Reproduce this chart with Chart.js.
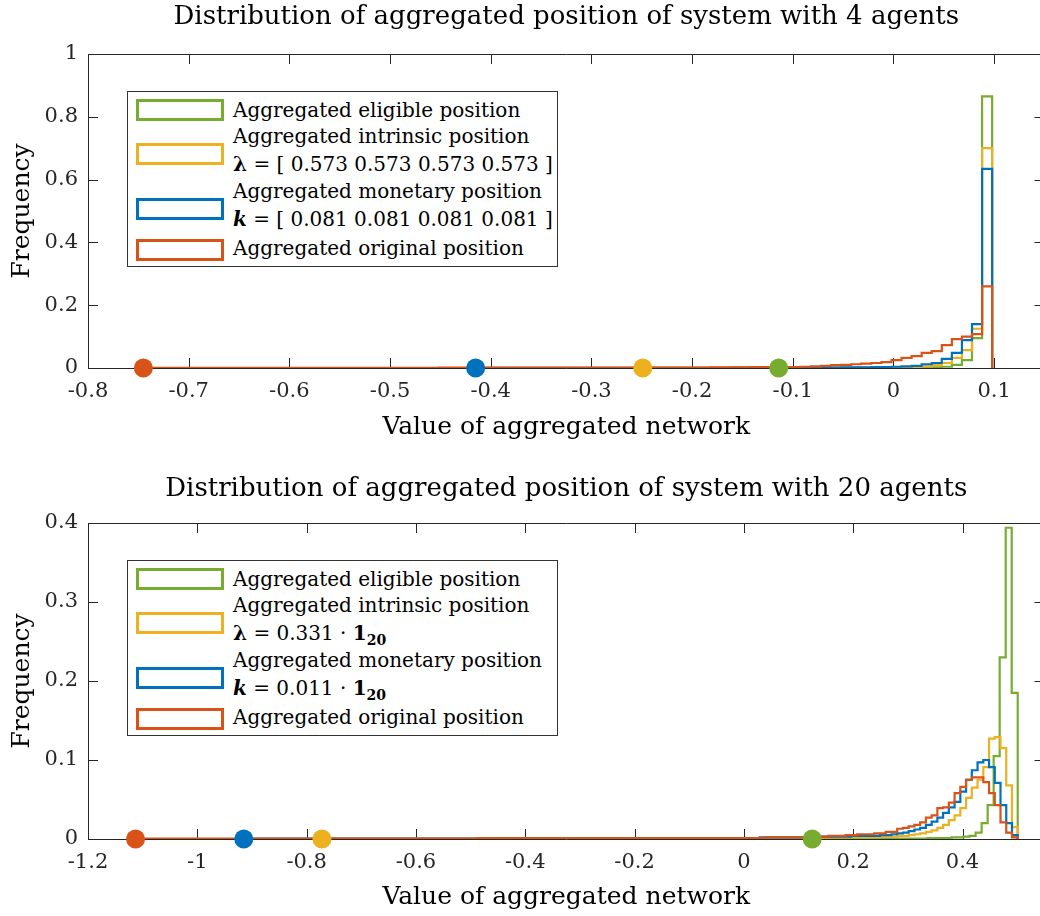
<!DOCTYPE html>
<html>
<head>
<meta charset="utf-8">
<script src="https://cdn.jsdelivr.net/npm/chart.js@4.4.1/dist/chart.umd.min.js"></script>
<style>
  body { margin: 0; background: #fff; width: 1040px; height: 916px; overflow: hidden; position: relative; font-family: "DejaVu Serif", serif; }
  canvas { position: absolute; left: 0; }
  .legend { position: absolute; left: 127px; width: 431px; height: 176px; border: 1px solid #333; background: #fff; box-sizing: border-box; }
  .legend .sw { position: absolute; left: 8px; width: 88px; height: 22px; border: 3px solid; box-sizing: border-box; background: #fff; }
  .legend .tx { position: absolute; left: 105px; font-size: 20px; line-height: 26px; color: #000; white-space: nowrap; }
  .legend sub { font-size: 14px; line-height: 0; }
</style>
</head>
<body>
<canvas id="topChart" width="1054" height="460" style="top:0"></canvas>
<canvas id="bottomChart" width="1054" height="456" style="top:460px"></canvas>
<div id="topLegend" class="legend" style="top:91px"></div>
<div id="bottomLegend" class="legend" style="top:560px"></div>
<script>
// series order as in the legend: eligible, intrinsic, monetary, original
const seriesNames = ['Aggregated eligible position', 'Aggregated intrinsic position', 'Aggregated monetary position', 'Aggregated original position'];
const seriesColors = ['#77AC30', '#EDB120', '#0072BD', '#D95319'];

const topTitle = 'Distribution of aggregated position of system with 4 agents';
const bottomTitle = 'Distribution of aggregated position of system with 20 agents';
const xTitle = 'Value of aggregated network';
const yTitle = 'Frequency';

const topXTicks = [-0.8, -0.7, -0.6, -0.5, -0.4, -0.3, -0.2, -0.1, 0, 0.1];
const topXLabels = ['-0.8', '-0.7', '-0.6', '-0.5', '-0.4', '-0.3', '-0.2', '-0.1', '0', '0.1'];
const topYTicks = [0, 0.2, 0.4, 0.6, 0.8, 1];
const topYLabels = ['0', '0.2', '0.4', '0.6', '0.8', '1'];
const bottomXTicks = [-1.2, -1, -0.8, -0.6, -0.4, -0.2, 0, 0.2, 0.4];
const bottomXLabels = ['-1.2', '-1', '-0.8', '-0.6', '-0.4', '-0.2', '0', '0.2', '0.4'];
const bottomYTicks = [0, 0.1, 0.2, 0.3, 0.4];
const bottomYLabels = ['0', '0.1', '0.2', '0.3', '0.4'];

// 4 agents: histogram bins (left edge of first bin, bin width, frequencies)
const topBinWidth = 0.01;
const topStarts = [-0.112, -0.252, -0.412, -0.752];
const topGreen = [
  0.0005, 0.0005, 0.0005, 0.0005, 0.0005, 0.0005, 0.0005, 0.0005, 0.0005, 0.0005,
  0.0005, 0.0005, 0.0005, 0.0005, 0.001, 0.002, 0.004, 0.010, 0.025, 0.095, 0.865];
const topYellow = [
  0.0005, 0.0005, 0.0005, 0.0005, 0.0005, 0.0005, 0.0005, 0.0005, 0.0005, 0.0005,
  0.0005, 0.0005, 0.0005, 0.0005, 0.0005, 0.001, 0.001, 0.001, 0.001, 0.001,
  0.001, 0.001, 0.001, 0.001, 0.001, 0.002, 0.002, 0.003, 0.005, 0.009,
  0.016, 0.032, 0.057, 0.125, 0.70];
const topBlue = [
  0.0005, 0.0005, 0.0005, 0.0005, 0.0005, 0.0005, 0.0005, 0.0005, 0.0005, 0.0005,
  0.0005, 0.0005, 0.0005, 0.0005, 0.0005, 0.0005, 0.0005, 0.0005, 0.0005, 0.0005,
  0.0005, 0.0005, 0.0005, 0.0005, 0.0005, 0.001, 0.001, 0.001, 0.001, 0.001,
  0.001, 0.001, 0.001, 0.001, 0.001, 0.001, 0.002, 0.002, 0.002, 0.003,
  0.003, 0.004, 0.005, 0.007, 0.012, 0.016, 0.029, 0.048, 0.089, 0.14, 0.634];
const topOrange = [
  0.0005, 0.0005, 0.0005, 0.0005, 0.0005, 0.0005, 0.0005, 0.0005, 0.0005, 0.0005,
  0.0005, 0.0005, 0.0005, 0.0005, 0.0005, 0.0005, 0.0005, 0.0005, 0.0005, 0.0005,
  0.0005, 0.0005, 0.0005, 0.0005, 0.0005, 0.0005, 0.0005, 0.0005, 0.0005, 0.0005,
  0.001, 0.001, 0.001, 0.001, 0.001, 0.001, 0.001, 0.001, 0.001, 0.001,
  0.001, 0.001, 0.001, 0.001, 0.001, 0.001, 0.001, 0.001, 0.001, 0.001,
  0.001, 0.001, 0.001, 0.001, 0.001, 0.001, 0.001, 0.002, 0.002, 0.002,
  0.002, 0.003, 0.003, 0.003, 0.003, 0.003, 0.004, 0.005, 0.007, 0.009,
  0.010, 0.012, 0.014, 0.016, 0.019, 0.025, 0.032, 0.038, 0.048, 0.054,
  0.073, 0.092, 0.100, 0.108, 0.26];
const topMarkers = [-0.114, -0.249, -0.415, -0.745];

// 20 agents
const bottomBinWidths = [0.011, 0.0105, 0.0105, 0.0105];
const bottomStarts = [0.127, -0.7695, -0.9165, -1.116];
const bottomGreen = [
  0.0005, 0.0005, 0.0005, 0.0005, 0.0005, 0.0005, 0.0005, 0.0005, 0.0005, 0.0005,
  0.0005, 0.0005, 0.0005, 0.0005, 0.0005, 0.0005, 0.0005, 0.0005, 0.0005, 0.001,
  0.001, 0.001, 0.001, 0.002, 0.002, 0.003, 0.004, 0.008, 0.020, 0.043,
  0.105, 0.230, 0.394, 0.185];
const bottomYellow = [
  0.0005, 0.0005, 0.0005, 0.0005, 0.0005, 0.0005, 0.0005, 0.0005, 0.0005, 0.0005,
  0.0005, 0.0005, 0.0005, 0.0005, 0.0005, 0.0005, 0.0005, 0.0005, 0.0005, 0.0005,
  0.0005, 0.0005, 0.0005, 0.0005, 0.0005, 0.0005, 0.0005, 0.0005, 0.0005, 0.0005,
  0.0005, 0.0005, 0.0005, 0.0005, 0.0005, 0.0005, 0.0005, 0.0005, 0.0005, 0.0005,
  0.0005, 0.0005, 0.0005, 0.0005, 0.0005, 0.0005, 0.0005, 0.0005, 0.0005, 0.0005,
  0.0005, 0.001, 0.001, 0.001, 0.001, 0.001, 0.001, 0.001, 0.001, 0.001,
  0.001, 0.001, 0.001, 0.001, 0.001, 0.001, 0.001, 0.001, 0.001, 0.001,
  0.001, 0.001, 0.001, 0.001, 0.001, 0.001, 0.001, 0.001, 0.001, 0.001,
  0.001, 0.001, 0.001, 0.001, 0.001, 0.001, 0.001, 0.002, 0.002, 0.002,
  0.002, 0.002, 0.002, 0.002, 0.002, 0.002, 0.002, 0.003, 0.003, 0.003,
  0.004, 0.004, 0.005, 0.006, 0.007, 0.009, 0.011, 0.014, 0.018, 0.024,
  0.030, 0.039, 0.052, 0.065, 0.075, 0.091, 0.127, 0.129, 0.115, 0.068,
  0.015];
const bottomBlue = [
  0.0005, 0.0005, 0.0005, 0.0005, 0.0005, 0.0005, 0.0005, 0.0005, 0.0005, 0.0005,
  0.0005, 0.0005, 0.0005, 0.0005, 0.0005, 0.0005, 0.0005, 0.0005, 0.0005, 0.0005,
  0.0005, 0.0005, 0.0005, 0.0005, 0.0005, 0.0005, 0.0005, 0.0005, 0.0005, 0.0005,
  0.0005, 0.0005, 0.0005, 0.0005, 0.0005, 0.0005, 0.0005, 0.0005, 0.0005, 0.0005,
  0.0005, 0.0005, 0.0005, 0.0005, 0.0005, 0.0005, 0.0005, 0.0005, 0.0005, 0.0005,
  0.0005, 0.0005, 0.0005, 0.0005, 0.0005, 0.001, 0.001, 0.001, 0.001, 0.001,
  0.001, 0.001, 0.001, 0.001, 0.001, 0.001, 0.001, 0.001, 0.001, 0.001,
  0.001, 0.001, 0.001, 0.001, 0.001, 0.001, 0.001, 0.001, 0.001, 0.001,
  0.001, 0.001, 0.001, 0.001, 0.001, 0.001, 0.001, 0.001, 0.001, 0.001,
  0.002, 0.002, 0.002, 0.002, 0.002, 0.002, 0.002, 0.002, 0.002, 0.003,
  0.003, 0.003, 0.003, 0.003, 0.003, 0.003, 0.004, 0.004, 0.004, 0.004,
  0.004, 0.005, 0.005, 0.006, 0.007, 0.008, 0.010, 0.012, 0.014, 0.018,
  0.022, 0.027, 0.033, 0.040, 0.047, 0.060, 0.075, 0.087, 0.097, 0.100,
  0.091, 0.071, 0.043, 0.020, 0.005];
const bottomOrange = [
  0.0005, 0.0005, 0.0005, 0.0005, 0.0005, 0.0005, 0.0005, 0.0005, 0.0005, 0.0005,
  0.0005, 0.0005, 0.0005, 0.0005, 0.0005, 0.0005, 0.0005, 0.0005, 0.0005, 0.0005,
  0.0005, 0.0005, 0.0005, 0.0005, 0.0005, 0.0005, 0.0005, 0.0005, 0.0005, 0.0005,
  0.0005, 0.0005, 0.0005, 0.0005, 0.0005, 0.0005, 0.0005, 0.0005, 0.0005, 0.0005,
  0.0005, 0.0005, 0.0005, 0.0005, 0.0005, 0.0005, 0.0005, 0.0005, 0.0005, 0.0005,
  0.0005, 0.0005, 0.0005, 0.0005, 0.0005, 0.0005, 0.0005, 0.0005, 0.0005, 0.0005,
  0.001, 0.001, 0.001, 0.001, 0.001, 0.001, 0.001, 0.001, 0.001, 0.001,
  0.001, 0.001, 0.001, 0.001, 0.001, 0.001, 0.001, 0.001, 0.001, 0.001,
  0.001, 0.001, 0.001, 0.001, 0.001, 0.001, 0.001, 0.001, 0.001, 0.001,
  0.001, 0.001, 0.001, 0.001, 0.001, 0.001, 0.001, 0.001, 0.001, 0.001,
  0.001, 0.001, 0.001, 0.001, 0.001, 0.001, 0.001, 0.001, 0.001, 0.001,
  0.002, 0.002, 0.002, 0.002, 0.002, 0.002, 0.002, 0.003, 0.003, 0.003,
  0.003, 0.004, 0.004, 0.004, 0.005, 0.005, 0.006, 0.006, 0.006, 0.007,
  0.007, 0.009, 0.009, 0.013, 0.014, 0.016, 0.018, 0.021, 0.027, 0.030,
  0.039, 0.040, 0.046, 0.058, 0.066, 0.075, 0.078, 0.078, 0.072, 0.058,
  0.043, 0.021, 0.008, 0.002];
const bottomMarkers = [0.125, -0.772, -0.915, -1.113];

// legend texts (second lines hold the parameters)
const topLegendLines = [
  seriesNames[0], seriesNames[1], '<b>λ</b> = [ 0.573 0.573 0.573 0.573 ]',
  seriesNames[2], '<b><i>k</i></b> = [ 0.081 0.081 0.081 0.081 ]', seriesNames[3]];
const bottomLegendLines = [
  seriesNames[0], seriesNames[1], '<b>λ</b> = 0.331 · <b>1<sub>20</sub></b>',
  seriesNames[2], '<b><i>k</i></b> = 0.011 · <b>1<sub>20</sub></b>', seriesNames[3]];

Chart.defaults.font.family = '"DejaVu Serif", serif';
const axisColor = '#262626';

// turn bin frequencies into outline points for a stepped line
function stairs(start, width, values) {
  const pts = [{x: start, y: 0}];
  values.forEach((v, i) => pts.push({x: start + i * width, y: v}));
  pts.push({x: start + values.length * width, y: 0});
  return pts;
}

// MATLAB style box with inward ticks on all four sides
const boxPlugin = {
  id: 'boxPlugin',
  beforeDatasetsDraw(chart) {
    const {ctx, chartArea: a, scales: {x, y}} = chart;
    ctx.save();
    ctx.strokeStyle = axisColor;
    ctx.lineWidth = 1;
    ctx.beginPath();
    ctx.rect(a.left + 0.5, a.top + 0.5, a.right - a.left, a.bottom - a.top);
    x.ticks.forEach(t => {
      const px = Math.round(x.getPixelForValue(t.value)) + 0.5;
      ctx.moveTo(px, a.bottom); ctx.lineTo(px, a.bottom - 10);
      ctx.moveTo(px, a.top); ctx.lineTo(px, a.top + 10);
    });
    y.ticks.forEach(t => {
      const py = Math.round(y.getPixelForValue(t.value)) + 0.5;
      ctx.moveTo(a.left, py); ctx.lineTo(a.left + 10, py);
      ctx.moveTo(a.right, py); ctx.lineTo(a.right - 10, py);
    });
    ctx.stroke();
    ctx.restore();
  }
};

function makeChart(id, o) {
  const datasets = o.series.map((s, i) => ({
    label: seriesNames[i],
    data: stairs(o.starts[i], o.widths[i], s),
    borderColor: seriesColors[i],
    borderWidth: 2.2,
    stepped: 'before',
    pointRadius: 0,
    fill: false,
    order: 4 - i
  }));
  datasets.push({
    label: 'minimum',
    data: o.markers.map(v => ({x: v, y: 0})),
    showLine: false,
    pointRadius: 9.5,
    pointBorderWidth: 0,
    pointBackgroundColor: seriesColors,
    clip: false,
    order: 0
  });
  return new Chart(document.getElementById(id), {
    type: 'line',
    data: {datasets: datasets},
    options: {
      responsive: false,
      animation: false,
      devicePixelRatio: 1,
      layout: {padding: {left: 0, right: 0, top: 0, bottom: 0}},
      plugins: {
        legend: {display: false},
        tooltip: {enabled: false},
        title: {display: true, fullSize: false, text: o.title, color: '#000', font: {size: 26, weight: 'normal', lineHeight: 1.2}, padding: o.titlePad}
      },
      scales: {
        x: {
          type: 'linear', min: o.xMin, max: o.xMax,
          grid: {display: false, drawTicks: false},
          border: {display: false},
          afterBuildTicks: s => { s.ticks = o.xTicks.map(v => ({value: v})); },
          afterFit: s => { s.height = o.xHeight; },
          ticks: {color: axisColor, font: {size: 21}, padding: 11, maxRotation: 0, autoSkip: false,
            callback: (v, i) => o.xLabels[i]},
          title: {display: true, text: xTitle, color: '#000', font: {size: 25}, padding: {top: 0, bottom: o.xTitlePad}}
        },
        y: {
          min: o.yMin, max: o.yMax,
          grid: {display: false, drawTicks: false},
          border: {display: false},
          afterBuildTicks: s => { s.ticks = o.yTicks.map(v => ({value: v})); },
          afterFit: s => { s.width = 88; },
          ticks: {color: axisColor, font: {size: 21}, padding: 10,
            callback: (v, i) => o.yLabels[i]},
          title: {display: true, text: yTitle, color: '#000', font: {size: 25}, padding: {top: 7, bottom: 0}}
        }
      }
    },
    plugins: [boxPlugin]
  });
}

makeChart('topChart', {
  title: topTitle, titlePad: {top: 2, bottom: 20.8},
  series: [topGreen, topYellow, topBlue, topOrange],
  starts: topStarts, widths: [topBinWidth, topBinWidth, topBinWidth, topBinWidth],
  markers: topMarkers,
  xMin: -0.8, xMax: 0.15, xTicks: topXTicks, xLabels: topXLabels, xHeight: 92, xTitlePad: 18,
  yMin: 0, yMax: 1, yTicks: topYTicks, yLabels: topYLabels
});

makeChart('bottomChart', {
  title: bottomTitle, titlePad: {top: 14, bottom: 17.8},
  series: [bottomGreen, bottomYellow, bottomBlue, bottomOrange],
  starts: bottomStarts, widths: bottomBinWidths,
  markers: bottomMarkers,
  xMin: -1.2, xMax: 0.55, xTicks: bottomXTicks, xLabels: bottomXLabels, xHeight: 77, xTitlePad: 4,
  yMin: 0, yMax: 0.4, yTicks: bottomYTicks, yLabels: bottomYLabels
});

// legends with two-line entries
const swatchTops = [7, 51, 106, 147];
const lineCenters = [18, 44, 72, 99, 127, 156];
function buildLegend(id, lines) {
  const box = document.getElementById(id);
  let html = '';
  swatchTops.forEach((t, i) => {
    html += '<div class="sw" style="top:' + t + 'px;border-color:' + seriesColors[i] + '"></div>';
  });
  lines.forEach((txt, i) => {
    html += '<div class="tx" style="top:' + (lineCenters[i] - 13) + 'px">' + txt + '</div>';
  });
  box.innerHTML = html;
}
buildLegend('topLegend', topLegendLines);
buildLegend('bottomLegend', bottomLegendLines);
</script>
</body>
</html>
